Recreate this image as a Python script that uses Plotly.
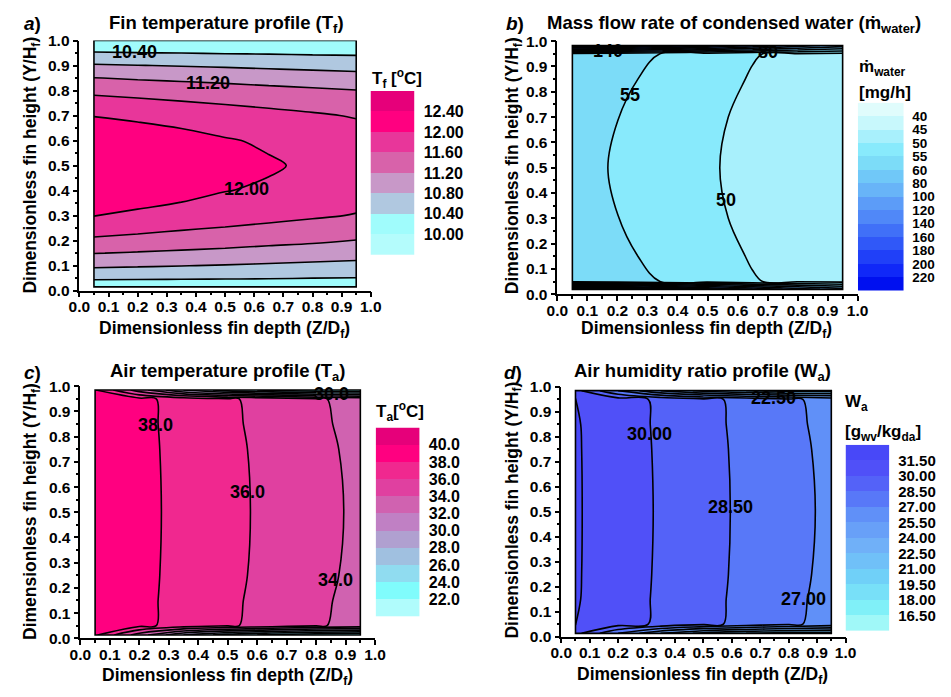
import numpy as np
import plotly.graph_objects as go

FIG_W, FIG_H = 951, 697
FONT = "Liberation Sans"

# Positions along the fin depth (Z/Df) shared by all four fields
depth = [0.05, 0.20, 0.35, 0.50, 0.65, 0.80, 0.95]

# (a) fin temperature T_f [°C]
height_a = [0.015, 0.05, 0.10, 0.15, 0.20, 0.30, 0.40, 0.50, 0.60, 0.70, 0.80, 0.85, 0.90, 0.95, 1.00]
fin_temp = [
    [10.12, 10.13, 10.13, 10.14, 10.14, 10.15, 10.15],
    [10.46, 10.45, 10.44, 10.43, 10.42, 10.40, 10.39],
    [10.87, 10.84, 10.81, 10.78, 10.75, 10.72, 10.69],
    [11.21, 11.17, 11.13, 11.09, 11.04, 11.00, 10.96],
    [11.53, 11.48, 11.42, 11.37, 11.31, 11.26, 11.19],
    [12.01, 11.93, 11.86, 11.79, 11.72, 11.65, 11.58],
    [12.22, 12.20, 12.12, 12.01, 11.95, 11.85, 11.78],
    [12.30, 12.27, 12.22, 12.15, 12.04, 11.94, 11.85],
    [12.22, 12.20, 12.13, 12.03, 11.95, 11.87, 11.80],
    [11.99, 11.93, 11.86, 11.79, 11.72, 11.65, 11.57],
    [11.51, 11.46, 11.41, 11.36, 11.31, 11.26, 11.21],
    [11.21, 11.16, 11.12, 11.08, 11.03, 10.99, 10.95],
    [10.84, 10.81, 10.78, 10.75, 10.72, 10.69, 10.66],
    [10.43, 10.41, 10.40, 10.38, 10.37, 10.35, 10.34],
    [10.08, 10.08, 10.07, 10.07, 10.06, 10.06, 10.05],
]
fin_temp_levels = [10.00, 10.40, 10.80, 11.20, 11.60, 12.00, 12.40]
fin_temp_colors = ["#b4fcfc", "#a0fcfc", "#b0c8e0", "#c898c8", "#d862aa",
                   "#e8369a", "#ff0080", "#e6007a"]
fin_temp_labels = [(10.40, 0.19, 0.954), (11.20, 0.44, 0.83), (12.00, 0.575, 0.407)]

# (b) mass flow rate of condensed water [mg/h]
height_b = [0.019, 0.05, 0.15, 0.30, 0.50, 0.70, 0.85, 0.95, 0.983]
water = [
    [235.0, 225.0, 200.0, 170.0, 140.0, 110.0, 90.0],
    [58.5, 56.8, 54.77, 52.3, 50.2, 49.3, 48.5],
    [57.8, 56.0, 53.8, 51.3, 49.75, 48.8, 48.0],
    [56.8, 55.05, 52.8, 50.6, 49.3, 48.5, 47.7],
    [56.3, 54.65, 52.3, 50.3, 49.2, 48.3, 47.5],
    [56.8, 55.05, 52.8, 50.6, 49.3, 48.5, 47.7],
    [57.8, 56.0, 53.8, 51.3, 49.75, 48.8, 48.0],
    [58.5, 56.8, 54.77, 52.3, 50.2, 49.3, 48.5],
    [235.0, 225.0, 200.0, 170.0, 140.0, 110.0, 90.0],
]
water_levels = [40, 45, 50, 55, 60, 80, 100, 120, 140, 160, 180, 200, 220]
water_colors = ["#e0fcfc", "#c8f8fc", "#a8f0fc", "#88eafc", "#7cdcf8", "#70c8f8",
                "#68b4f8", "#5c9cf8", "#5088f8", "#4070f8", "#3058f8", "#2040f8",
                "#1028f8", "#0010f0"]
water_labels = [(140, 0.17, 0.962), (80, 0.70, 0.958), (55, 0.241, 0.787), (50, 0.561, 0.371)]

# (c) air temperature T_a [°C]
height_c = [0.013, 0.05, 0.15, 0.25, 0.50, 0.75, 0.85, 0.95, 0.985]
air_temp = [
    [38.3, 33.0, 28.0, 25.0, 23.5, 22.5, 22.2],
    [39.5, 38.5, 37.2, 36.25, 35.3, 34.2, 33.4],
    [39.54, 38.54, 37.27, 36.35, 35.36, 34.3, 33.5],
    [39.57, 38.57, 37.34, 36.46, 35.43, 34.41, 33.61],
    [39.6, 38.6, 37.4, 36.55, 35.48, 34.5, 33.7],
    [39.57, 38.57, 37.34, 36.46, 35.43, 34.41, 33.61],
    [39.54, 38.54, 37.27, 36.35, 35.36, 34.3, 33.5],
    [39.5, 38.5, 37.2, 36.25, 35.3, 34.2, 33.4],
    [38.1, 33.0, 28.0, 25.0, 23.5, 22.5, 22.2],
]
air_temp_levels = [22.0, 24.0, 26.0, 28.0, 30.0, 32.0, 34.0, 36.0, 38.0, 40.0]
air_temp_colors = ["#b0fcfc", "#80fcfc", "#90dcf0", "#a0c0e0", "#b0a0d0", "#c080c4",
                   "#d062b0", "#e040a0", "#f0288f", "#ff0080", "#e6007a"]
air_temp_labels = [(38.0, 0.256, 0.848), (36.0, 0.566, 0.581), (34.0, 0.866, 0.232),
                   (30.0, 0.853, 0.968)]

# (d) air humidity ratio W_a [g_wv/kg_da]
height_d = [0.013, 0.05, 0.15, 0.25, 0.50, 0.75, 0.85, 0.95, 0.985]
humidity = [
    [30.5, 27.0, 24.0, 22.0, 21.0, 20.5, 20.3],
    [31.6, 30.6, 29.75, 28.9, 28.05, 27.25, 26.5],
    [31.62, 30.64, 29.79, 28.97, 28.09, 27.34, 26.57],
    [31.64, 30.67, 29.82, 29.04, 28.12, 27.42, 26.64],
    [31.65, 30.7, 29.85, 29.1, 28.15, 27.5, 26.7],
    [31.64, 30.67, 29.82, 29.04, 28.12, 27.42, 26.64],
    [31.62, 30.64, 29.79, 28.97, 28.09, 27.34, 26.57],
    [31.6, 30.6, 29.75, 28.9, 28.05, 27.25, 26.5],
    [30.5, 27.0, 24.0, 22.0, 21.0, 20.5, 20.3],
]
humidity_levels = [16.5, 18.0, 19.5, 21.0, 22.5, 24.0, 25.5, 27.0, 28.5, 30.0, 31.5]
humidity_colors = ["#a0f8f8", "#80f0f8", "#78e0f8", "#70d0f8", "#70c0f8", "#70b0f8",
                   "#68a0f8", "#6090f8", "#5878f8", "#5462f8", "#5050f8", "#4848f8"]
humidity_labels = [(30.00, 0.309, 0.81), (28.50, 0.596, 0.517), (27.00, 0.853, 0.15),
                   (22.50, 0.745, 0.957)]


def px(x):
    return x / FIG_W


def py(y):
    return 1 - y / FIG_H


def to_index(values, levels):
    """Map field values onto level indices so every contour step is 1."""
    v = np.asarray(values, float)
    lv = np.asarray(levels, float)
    idx = np.interp(v, lv, np.arange(len(lv)))
    lo, hi = v < lv[0], v > lv[-1]
    idx[lo] = (v[lo] - lv[0]) / (lv[1] - lv[0])
    idx[hi] = len(lv) - 1 + (v[hi] - lv[-1]) / (lv[-1] - lv[-2])
    return idx


panels = [
    dict(letter="a", title="Fin temperature profile (T<sub>f</sub>)",
         y=height_a, z=fin_temp, levels=fin_temp_levels, colors=fin_temp_colors,
         labels=fin_temp_labels, fmt="{:.2f}", reverse_bar=False, bar_size=16,
         box=(70, 368.3, 32.3, 288.7), bar=(368, 413, 84, 252),
         title_xy=(221, 15), letter_xy=(22, 15), xt_xy=(219, 329), yt_xy=(21, 160),
         bar_title=[("T<sub>f</sub> [<sup>o</sup>C]", 367, 71)]),
    dict(letter="b", title="Mass flow rate of condensed water (ṁ<sub>water</sub>)",
         y=height_b, z=water, levels=water_levels, colors=water_colors,
         labels=water_labels, fmt="{:d}", reverse_bar=True, bar_size=13.5,
         box=(559.3, 866.7, 33, 292.3), bar=(867, 913.7, 96, 288.7),
         title_xy=(740, 15), letter_xy=(516, 15), xt_xy=(712, 329), yt_xy=(514, 161),
         bar_title=[("ṁ<sub>water</sub>", 866, 60), ("[mg/h]", 866, 86)]),
    dict(letter="c", title="Air temperature profile (T<sub>a</sub>)",
         y=height_c, z=air_temp, levels=air_temp_levels, colors=air_temp_colors,
         labels=air_temp_labels, fmt="{:.1f}", reverse_bar=False, bar_size=16,
         box=(71, 372.7, 386.7, 645), bar=(373.3, 418.3, 429, 622.7),
         title_xy=(222, 372), letter_xy=(22, 373), xt_xy=(222, 684), yt_xy=(21, 515),
         bar_title=[("T<sub>a</sub>[<sup>o</sup>C]", 372, 413)]),
    dict(letter="d", title="Air humidity ratio profile (W<sub>a</sub>)",
         y=height_d, z=humidity, levels=humidity_levels, colors=humidity_colors,
         labels=humidity_labels, fmt="{:.2f}", reverse_bar=False, bar_size=15,
         box=(563.3, 854.3, 387.3, 643.3), bar=(854.3, 899, 446.7, 637.3),
         title_xy=(708, 372), letter_xy=(514, 373), xt_xy=(708, 683), yt_xy=(514, 514),
         bar_title=[("W<sub>a</sub>", 852, 404), ("[g<sub>wv</sub>/kg<sub>da</sub>]", 852, 435)]),
]

fig = go.Figure()
layout = dict(
    width=FIG_W, height=FIG_H, margin=dict(l=0, r=0, t=0, b=0),
    paper_bgcolor="white", plot_bgcolor="white", showlegend=False,
    font=dict(family=FONT, size=15, color="black"),
)
annotations = []
shapes = []

tick_font = dict(family=FONT, size=15.5, color="black", weight="bold")
axis_common = dict(
    range=[0, 1], dtick=0.1, tick0=0, tickformat=".1f", ticks="outside", ticklen=5,
    tickwidth=1.5, tickcolor="black", showline=True, linewidth=1.5, linecolor="black",
    showgrid=False, zeroline=False, tickfont=tick_font, fixedrange=True,
    minor=dict(dtick=0.05, ticks="outside", ticklen=3, tickwidth=1.5, tickcolor="black",
               showgrid=False),
)

for i, p in enumerate(panels, start=1):
    n = len(p["levels"])
    scale = [[k / n, c] for k, c in enumerate(p["colors"])]
    xa, ya = f"x{i}", f"y{i}"
    fig.add_trace(go.Contour(
        x=depth, y=p["y"], z=to_index(p["z"], p["levels"]),
        xaxis=xa, yaxis=ya, autocontour=False,
        contours=dict(start=0, end=n - 1, size=1, coloring="fill", showlines=True),
        colorscale=scale, showscale=False,
        line=dict(color="black", width=1.6, smoothing=1.0), hoverinfo="skip",
    ))
    x0, x1, yt, yb = p["box"]
    layout[f"xaxis{i}"] = dict(axis_common, domain=[px(x0), px(x1)], anchor=ya,
                               ticklabelstandoff=-4)
    layout[f"yaxis{i}"] = dict(axis_common, domain=[py(yb), py(yt)], anchor=xa)

    # outline of the computed region
    shapes.append(dict(type="rect", xref=xa, yref=ya,
                       x0=min(depth), x1=max(depth), y0=min(p["y"]), y1=max(p["y"]),
                       line=dict(color="black", width=1.6), fillcolor="rgba(0,0,0,0)"))

    # contour labels
    for val, lx, ly in p["labels"]:
        annotations.append(dict(xref=xa, yref=ya, x=lx, y=ly, text=f"<b>{p['fmt'].format(val)}</b>",
                                showarrow=False, font=dict(family=FONT, size=18, color="black")))

    # discrete colour key built as a one-column heatmap
    j = i + 4
    bx0, bx1, byt, byb = p["bar"]
    fig.add_trace(go.Heatmap(
        z=[[k] for k in range(n + 1)], x=[0], y=list(range(n + 1)),
        colorscale=scale, zmin=0, zmax=n, showscale=False,
        xaxis=f"x{j}", yaxis=f"y{j}", hoverinfo="skip",
    ))
    layout[f"xaxis{j}"] = dict(domain=[px(bx0), px(bx1)], anchor=f"y{j}", range=[-0.5, 0.5],
                               visible=False, fixedrange=True)
    yr = [n + 0.5, -0.5] if p["reverse_bar"] else [-0.5, n + 0.5]
    layout[f"yaxis{j}"] = dict(
        domain=[py(byb), py(byt)], anchor=f"x{j}", range=yr, side="right",
        tickvals=[k + 0.5 for k in range(n)],
        ticktext=[p["fmt"].format(v) for v in p["levels"]],
        ticks="outside", ticklen=5, tickcolor="rgba(0,0,0,0)",
        showline=False, showgrid=False, zeroline=False, fixedrange=True,
        tickfont=dict(family=FONT, size=p["bar_size"], color="black", weight="bold"),
    )
    for txt, tx, ty in p["bar_title"]:
        annotations.append(dict(xref="paper", yref="paper", x=px(tx), y=py(ty), text=f"<b>{txt}</b>",
                                xanchor="left", yanchor="middle", showarrow=False,
                                font=dict(family=FONT, size=17, color="black")))

    # titles and axis captions
    tx, ty = p["title_xy"]
    annotations.append(dict(xref="paper", yref="paper", x=px(tx), y=py(ty),
                            text=f"<b>{p['title']}</b>", showarrow=False,
                            xanchor="center", yanchor="middle",
                            font=dict(family=FONT, size=18.5, color="black")))
    lx, ly = p["letter_xy"]
    annotations.append(dict(xref="paper", yref="paper", x=px(lx), y=py(ly),
                            text=f"<b><i>{p['letter']}</i>)</b>", showarrow=False,
                            xanchor="center", yanchor="middle",
                            font=dict(family=FONT, size=19, color="black")))
    ax_, ay_ = p["xt_xy"]
    annotations.append(dict(xref="paper", yref="paper", x=px(ax_), y=py(ay_),
                            text="<b>Dimensionless fin depth (Z/D<sub>f</sub>)</b>", showarrow=False,
                            xanchor="center", yanchor="middle",
                            font=dict(family=FONT, size=17.5, color="black")))
    bx_, by_ = p["yt_xy"]
    annotations.append(dict(xref="paper", yref="paper", x=px(bx_), y=py(by_),
                            text="<b>Dimensionless fin height (Y/H<sub>f</sub>)</b>", showarrow=False,
                            textangle=-90, xanchor="center", yanchor="middle",
                            font=dict(family=FONT, size=17.5, color="black")))

layout["annotations"] = annotations
layout["shapes"] = shapes
fig.update_layout(**layout)
fig.write_html("out.html")
